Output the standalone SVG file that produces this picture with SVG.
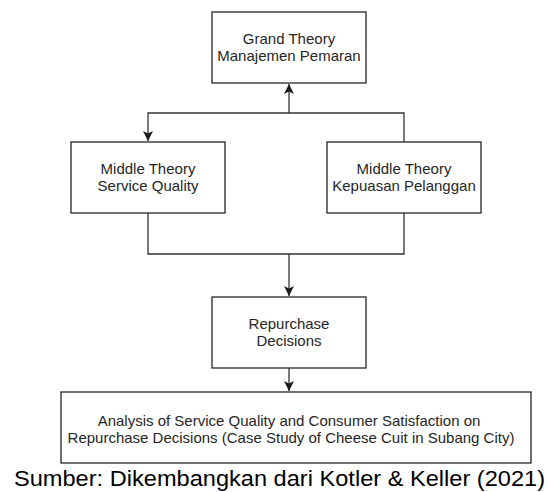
<svg xmlns="http://www.w3.org/2000/svg" width="549" height="492" viewBox="0 0 549 492">
<defs>
<marker id="arr" viewBox="0 0 10 10" refX="10" refY="5" markerWidth="10" markerHeight="10" markerUnits="userSpaceOnUse" orient="auto">
<path d="M0,0 L10,5 L0,10 L2.5,5 z" fill="#1a1a1a"/>
</marker>
<style>
.box{fill:#fff;stroke:#262626;stroke-width:1.3}
.t{font-family:"Liberation Sans",Arial,sans-serif;font-size:15px;fill:#262626;text-anchor:middle}
.e{fill:none;stroke:#333;stroke-width:1.3}
</style>
</defs>
<rect width="549" height="492" fill="#fff"/>
<g id="connectors">
<polyline class="e" points="404,142 404,113 148,113 148,141" marker-end="url(#arr)"/>
<line class="e" x1="289" y1="113" x2="289" y2="84" marker-end="url(#arr)"/>
<polyline class="e" points="148,213 148,254 404,254 404,213"/>
<line class="e" x1="289" y1="254" x2="289" y2="296" marker-end="url(#arr)"/>
<line class="e" x1="289" y1="368" x2="289" y2="391" marker-end="url(#arr)"/>
</g>
<g id="grand">
<rect class="box" x="212" y="12" width="154" height="71"/>
<text class="t" x="289" y="44">Grand Theory</text>
<text class="t" x="289" y="61">Manajemen Pemaran</text>
</g>
<g id="service">
<rect class="box" x="71" y="142" width="154" height="71"/>
<text class="t" x="148" y="174">Middle Theory</text>
<text class="t" x="148" y="191">Service Quality</text>
</g>
<g id="kepuasan">
<rect class="box" x="327" y="142" width="154" height="71"/>
<text class="t" x="404" y="174">Middle Theory</text>
<text class="t" x="404" y="191">Kepuasan Pelanggan</text>
</g>
<g id="repurchase">
<rect class="box" x="212" y="297" width="154" height="71"/>
<text class="t" x="289" y="329">Repurchase</text>
<text class="t" x="289" y="346">Decisions</text>
</g>
<g id="analysis">
<rect class="box" x="61" y="392" width="470" height="71"/>
<text class="t" x="289" y="426">Analysis of Service Quality and Consumer Satisfaction on</text>
<text class="t" x="291" y="443">Repurchase Decisions (Case Study of Cheese Cuit in Subang City)</text>
</g>
<g id="caption">
<text x="279.5" y="486" font-family="'Liberation Sans',Arial,sans-serif" font-size="21.5" fill="#000" text-anchor="middle" textLength="531" lengthAdjust="spacingAndGlyphs">Sumber: Dikembangkan dari Kotler &amp; Keller (2021)</text>
</g>
</svg>
